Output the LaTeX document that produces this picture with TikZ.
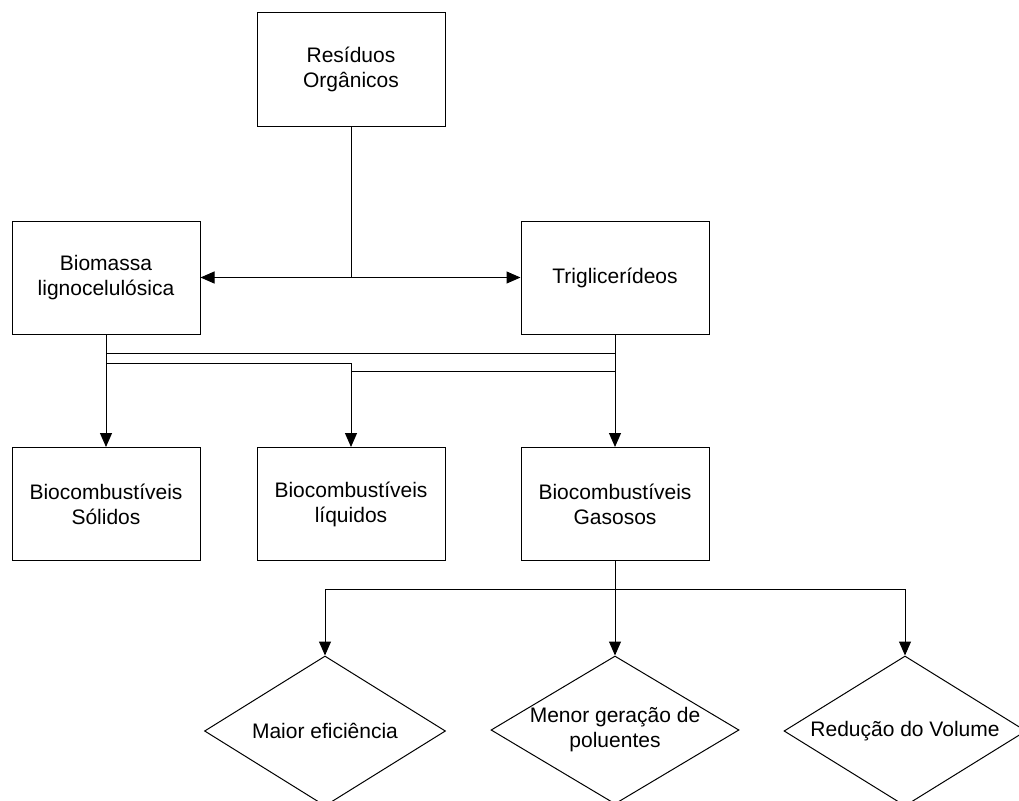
\documentclass[tikz,border=0pt]{standalone}
\usepackage{fontspec}
\setmainfont{Liberation Sans}
\usetikzlibrary{arrows.meta,shapes.geometric}
\tikzset{
  box/.style={draw, line width=1pt, rectangle, inner sep=0pt, align=center,
    minimum width=188pt, minimum height=113pt,
    font=\fontsize{21}{25}\selectfont},
  dia/.style={draw, line width=1pt, diamond, inner sep=0pt},
  lbl/.style={align=center, inner sep=0pt, font=\fontsize{21}{25}\selectfont},
  conn/.style={line width=1pt},
  arr/.style={conn, -{Triangle[length=14pt,width=12pt]}},
  darr/.style={conn, {Triangle[length=14pt,width=12pt]}-{Triangle[length=14pt,width=12pt]}}
}
\begin{document}
\begin{tikzpicture}[x=1pt,y=-1pt]
\useasboundingbox (0,0) rectangle (1019,800);
\clip (0,0) rectangle (1019,800);

\node[box] (res) at (351,69.5) {Resíduos\\Orgânicos};
\node[box] (bio) at (106,277.5) {Biomassa\\lignocelulósica};
\node[box] (tri) at (615,277.5) {Triglicerídeos};
\node[box] (sol) at (106,504) {Biocombustíveis\\Sólidos};
\node[box] (liq) at (351,504) {Biocombustíveis\\líquidos};
\node[box] (gas) at (615,504) {Biocombustíveis\\Gasosos};

\node[dia, minimum width=241pt, minimum height=150pt] (d1) at (325,731) {};
\node[dia, minimum width=248pt, minimum height=148pt] (d2) at (615,730) {};
\node[dia, minimum width=242pt, minimum height=150pt] (d3) at (905,731) {};
\node[lbl] (t1) at (d1.center) {Maior eficiência};
\node[lbl] (t2) at (d2.center) {Menor geração de\\poluentes};
\node[lbl] (t3) at (d3.center) {Redução do Volume};

% Resíduos split
\coordinate (split) at (res.south |- bio.east);
\draw[conn] (res.south) -- (split);
\draw[darr] (bio.east) -- (tri.west);

% to bottom row
\draw[arr] (bio.south) -- (sol.north);
\draw[conn] (bio.south |- 0,353) -- (tri.south |- 0,353);
\draw[arr] (bio.south |- 0,363) -| (liq.north);
\draw[conn] (tri.south |- 0,371) -| (liq.north |- 0,380);
\draw[arr] (tri.south) -- (gas.north);

% to diamonds
\coordinate (hub) at (gas.south |- 0,589);
\draw[arr] (gas.south) -- (d2.north);
\draw[arr] (hub) -| (d1.north);
\draw[arr] (hub) -| (d3.north);
\end{tikzpicture}
\end{document}
